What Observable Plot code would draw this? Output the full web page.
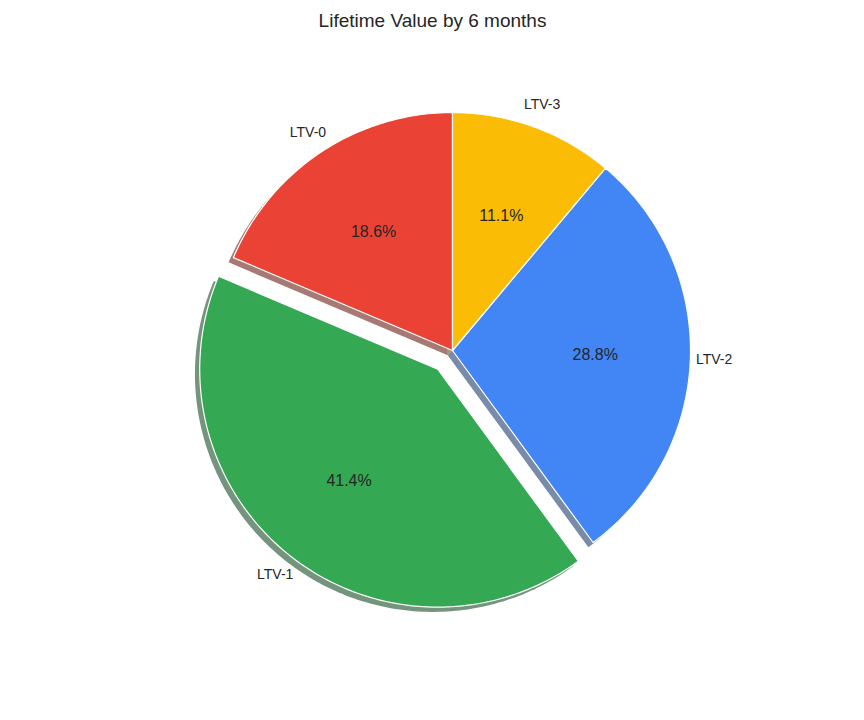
<!DOCTYPE html>
<html><head><meta charset="utf-8">
<script src="https://cdn.jsdelivr.net/npm/d3@7"></script>
<script src="https://cdn.jsdelivr.net/npm/@observablehq/plot@0.6"></script>
<style>body{margin:0;background:#fff}</style>
</head><body><div id="c"></div>
<script>
const labels = ["LTV-0","LTV-1","LTV-2","LTV-3"];
const values = [18.6, 41.4, 28.8, 11.1];
const colors = ["#EA4335","#34A853","#4285F4","#FBBC05"];
const explode = [0, 0.1, 0, 0];

const total = d3.sum(values);
let start = 90;
const wedges = [], shadows = [], texts = [];
values.forEach((v, i) => {
  const span = v / total * 360;
  const a0 = start, a1 = start + span; start = a1;
  const mid = (a0 + a1) / 2 * Math.PI / 180;
  const ox = explode[i] * Math.cos(mid), oy = explode[i] * Math.sin(mid);
  const n = Math.max(4, Math.ceil(span / 1));
  const pts = [[ox, oy]];
  for (let k = 0; k <= n; k++) {
    const a = (a0 + span * k / n) * Math.PI / 180;
    pts.push([ox + Math.cos(a), oy + Math.sin(a)]);
  }
  pts.push([ox, oy]);
  pts.forEach(([x, y]) => {
    wedges.push({x, y, s: labels[i], c: colors[i]});
    shadows.push({x: x - 0.02, y: y - 0.02, s: labels[i], c: d3.color(colors[i]).darker(2.2).formatHex()});
  });
  texts.push({x: ox + 1.1 * Math.cos(mid), y: oy + 1.1 * Math.sin(mid), t: labels[i], big: false,
    anchor: Math.cos(mid) < 0 ? "end" : "start"});
  texts.push({x: ox + 0.6 * Math.cos(mid), y: oy + 0.6 * Math.sin(mid), t: v.toFixed(1) + "%", big: true, anchor: "middle"});
});

const chart = Plot.plot({
  width: 864, height: 720, margin: 0,
  x: {domain: [-452/238, 412/238], axis: null},
  y: {domain: [-370/238, 350/238], axis: null},
  style: {fontFamily: "Liberation Sans, Arial, sans-serif"},
  marks: [
    Plot.line(shadows, {x: "x", y: "y", z: "s", fill: "c", fillOpacity: 0.6, stroke: "none"}),
    Plot.line(wedges, {x: "x", y: "y", z: "s", fill: "c", stroke: "white", strokeWidth: 1.2, strokeLinejoin: "round"}),
    Plot.text(texts.filter(d => !d.big), {x: "x", y: "y", text: "t", fontSize: 14, fill: "#262626", textAnchor: "anchor"}),
    Plot.text(texts.filter(d => d.big), {x: "x", y: "y", text: "t", fontSize: 16, fill: "#262626"}),
    Plot.text(["Lifetime Value by 6 months"], {frameAnchor: "top", dy: 13, fontSize: 19, fill: "#262626", lineAnchor: "top"})
  ]
});
document.getElementById("c").append(chart);
</script></body></html>
